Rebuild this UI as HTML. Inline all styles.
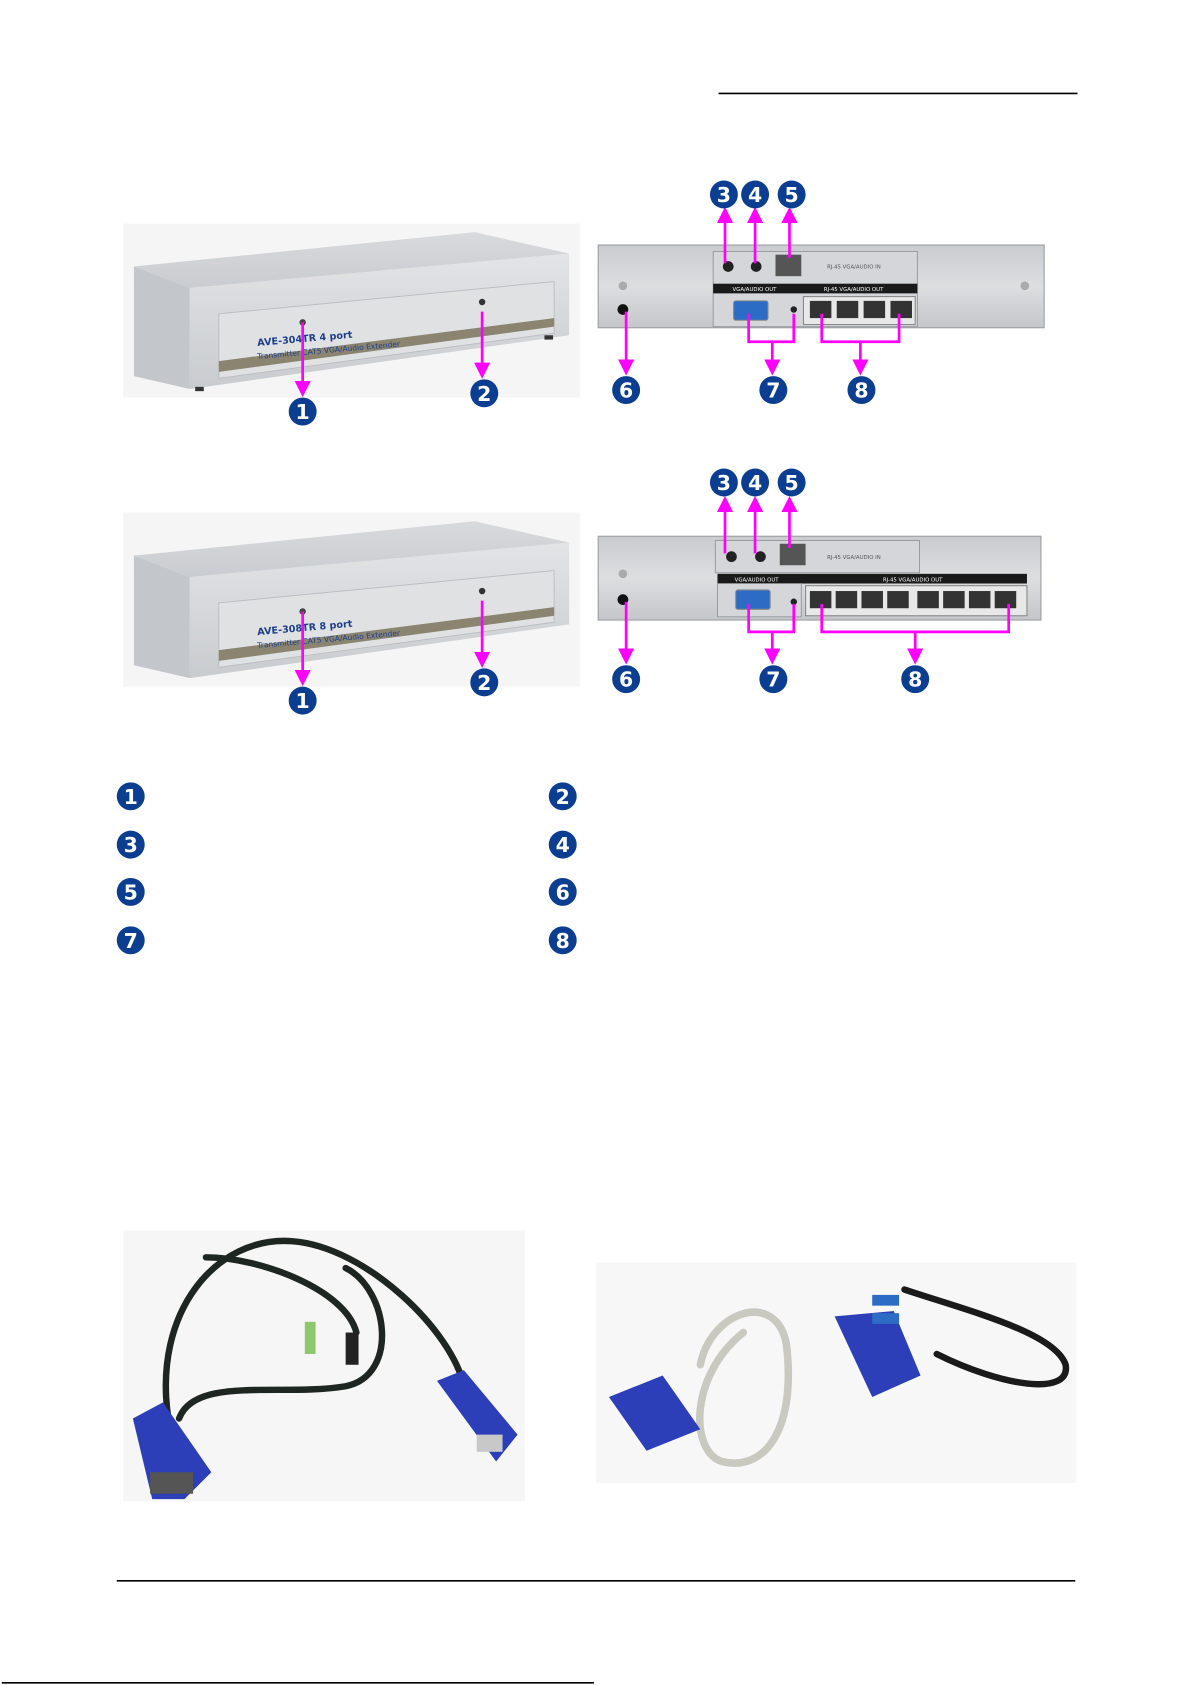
<!DOCTYPE html>
<html><head><meta charset="utf-8"><style>
html,body{margin:0;padding:0;background:#fff;}
svg{display:block;}
text{font-family:"DejaVu Sans","Liberation Sans",sans-serif;}
</style></head><body>
<svg width="1191" height="1685" viewBox="0 0 1105 1568" xmlns="http://www.w3.org/2000/svg">
<defs>
<linearGradient id="top" x1="0" y1="0" x2="0" y2="1"><stop offset="0" stop-color="#d8dadd"/><stop offset="1" stop-color="#c9ccd0"/></linearGradient>
<linearGradient id="front" x1="0" y1="0" x2="0" y2="1"><stop offset="0" stop-color="#e2e4e6"/><stop offset="1" stop-color="#c8cbcf"/></linearGradient>
<linearGradient id="back" x1="0" y1="0" x2="0" y2="1"><stop offset="0" stop-color="#c9cbce"/><stop offset="0.5" stop-color="#dcdee0"/><stop offset="1" stop-color="#c4c6c9"/></linearGradient>
<g id="badge"><circle r="13" fill="#0b3d91"/></g>
<marker id="ah" markerWidth="6" markerHeight="6" refX="3" refY="3" orient="auto" markerUnits="strokeWidth"><path d="M0,0 L6,3 L0,6 z" fill="#ff00ff"/></marker>
</defs>
<line x1="667" y1="87" x2="1001" y2="87" stroke="#000" stroke-width="1.5"/>

<!-- ===== Row 1 ===== -->
<g id="frontunit">
<rect x="113" y="208" width="425" height="162" fill="#f5f5f5"/>
<polygon points="123,248 440,216 528,236 175,268" fill="url(#top)"/>
<polygon points="123,248 175,268 175,362 123,350" fill="#c3c6ca"/>
<polygon points="175,268 528,236 528,312 175,362" fill="url(#front)"/>
<polygon points="202,292 514,262 514,310 202,352" fill="#dfe1e3" stroke="#b8bbbf" stroke-width="0.8"/>
<polygon points="202,336 514,296 514,304 202,346" fill="#8a8470"/>
<circle cx="280" cy="300" r="3" fill="#444"/>
<circle cx="447" cy="281" r="3" fill="#333"/>
<text x="238" y="322" font-size="9" font-weight="bold" fill="#1d3f8a" transform="rotate(-5 238 322)">AVE-304TR 4 port</text>
<text x="238" y="334" font-size="7" fill="#1d3f8a" transform="rotate(-5 238 334)">Transmitter  CAT5 VGA/Audio Extender</text>
<rect x="180" y="360" width="8" height="4" fill="#333"/><rect x="505" y="312" width="8" height="4" fill="#333"/>
</g>
<g id="backunit">
<rect x="555" y="228" width="415" height="77" fill="url(#back)" stroke="#9a9da1" stroke-width="1"/>
<rect x="662" y="234" width="190" height="70" fill="#d4d6d9" stroke="#8f9296" stroke-width="0.8"/>
<circle cx="676" cy="248" r="5" fill="#222"/><circle cx="702" cy="248" r="5" fill="#222"/>
<rect x="720" y="237" width="24" height="20" fill="#555"/>
<text x="768" y="250" font-size="5" fill="#555">RJ-45  VGA/AUDIO IN</text>
<rect x="662" y="264" width="190" height="9" fill="#1a1a1a"/>
<text x="680" y="271" font-size="5" fill="#fff">VGA/AUDIO OUT</text><text x="765" y="271" font-size="5" fill="#fff">RJ-45 VGA/AUDIO OUT</text>
<rect x="681" y="280" width="32" height="18" rx="2" fill="#2c6cc4" stroke="#888"/>
<circle cx="737" cy="288" r="3" fill="#222"/>
<rect x="746" y="276" width="104" height="26" fill="#e8e8e8" stroke="#888"/>
<rect x="752" y="280" width="20" height="16" fill="#333"/><rect x="777" y="280" width="20" height="16" fill="#333"/><rect x="802" y="280" width="20" height="16" fill="#333"/><rect x="827" y="280" width="20" height="16" fill="#333"/>
<circle cx="578" cy="266" r="4" fill="#aaa"/><circle cx="952" cy="266" r="4" fill="#aaa"/>
<circle cx="578" cy="288" r="5" fill="#111"/>
</g>
<g stroke="#ff00ff" stroke-width="2.5" fill="none">
<line x1="280" y1="300" x2="280" y2="362" marker-end="url(#ah)"/>
<line x1="447" y1="290" x2="447" y2="345" marker-end="url(#ah)"/>
<line x1="673" y1="245" x2="673" y2="200" marker-end="url(#ah)"/>
<line x1="701" y1="245" x2="701" y2="200" marker-end="url(#ah)"/>
<line x1="733" y1="240" x2="733" y2="200" marker-end="url(#ah)"/>
<line x1="581" y1="290" x2="581" y2="342" marker-end="url(#ah)"/>
<polyline points="695,292 695,318 737,318 737,292"/><line x1="717" y1="318" x2="717" y2="342" marker-end="url(#ah)"/>
<polyline points="763,292 763,318 835,318 835,292"/><line x1="799" y1="318" x2="799" y2="342" marker-end="url(#ah)"/>
</g>
<g font-size="19" font-weight="bold" fill="#fff" text-anchor="middle">
<circle cx="280" cy="383" r="13" fill="#0b3d91"/><text x="280" y="390">1</text>
<circle cx="449" cy="366" r="13" fill="#0b3d91"/><text x="449" y="373">2</text>
<circle cx="672" cy="181" r="13" fill="#0b3d91"/><text x="672" y="188">3</text>
<circle cx="701" cy="181" r="13" fill="#0b3d91"/><text x="701" y="188">4</text>
<circle cx="735" cy="181" r="13" fill="#0b3d91"/><text x="735" y="188">5</text>
<circle cx="581" cy="363" r="13" fill="#0b3d91"/><text x="581" y="370">6</text>
<circle cx="718" cy="363" r="13" fill="#0b3d91"/><text x="718" y="370">7</text>
<circle cx="800" cy="363" r="13" fill="#0b3d91"/><text x="800" y="370">8</text>
</g>

<!-- ===== Row 2 ===== -->
<g transform="translate(0,269)">
<rect x="113" y="208" width="425" height="162" fill="#f5f5f5"/>
<polygon points="123,248 440,216 528,236 175,268" fill="url(#top)"/>
<polygon points="123,248 175,268 175,362 123,350" fill="#c3c6ca"/>
<polygon points="175,268 528,236 528,312 175,362" fill="url(#front)"/>
<polygon points="202,292 514,262 514,310 202,352" fill="#dfe1e3" stroke="#b8bbbf" stroke-width="0.8"/>
<polygon points="202,336 514,296 514,304 202,346" fill="#8a8470"/>
<circle cx="280" cy="300" r="3" fill="#444"/>
<circle cx="447" cy="281" r="3" fill="#333"/>
<text x="238" y="322" font-size="9" font-weight="bold" fill="#1d3f8a" transform="rotate(-5 238 322)">AVE-308TR 8 port</text>
<text x="238" y="334" font-size="7" fill="#1d3f8a" transform="rotate(-5 238 334)">Transmitter  CAT5 VGA/Audio Extender</text>
</g>
<g>
<rect x="555" y="499" width="412" height="78" fill="url(#back)" stroke="#9a9da1"/>
<rect x="664" y="503" width="190" height="30" fill="#d4d6d9" stroke="#8f9296" stroke-width="0.8"/>
<circle cx="679" cy="518" r="5" fill="#222"/><circle cx="706" cy="518" r="5" fill="#222"/>
<rect x="724" y="506" width="24" height="20" fill="#555"/>
<text x="768" y="520" font-size="5" fill="#555">RJ-45  VGA/AUDIO IN</text>
<rect x="666" y="534" width="288" height="9" fill="#1a1a1a"/>
<text x="682" y="541" font-size="5" fill="#fff">VGA/AUDIO OUT</text><text x="820" y="541" font-size="5" fill="#fff">RJ-45 VGA/AUDIO OUT</text>
<rect x="666" y="543" width="78" height="31" fill="#d4d6d9" stroke="#8f9296" stroke-width="0.8"/>
<rect x="683" y="549" width="32" height="18" rx="2" fill="#2c6cc4" stroke="#888"/>
<circle cx="737" cy="560" r="3" fill="#222"/>
<rect x="748" y="545" width="206" height="28" fill="#e8e8e8" stroke="#888"/>
<g fill="#333"><rect x="752" y="550" width="20" height="16"/><rect x="776" y="550" width="20" height="16"/><rect x="800" y="550" width="20" height="16"/><rect x="824" y="550" width="20" height="16"/><rect x="852" y="550" width="20" height="16"/><rect x="876" y="550" width="20" height="16"/><rect x="900" y="550" width="20" height="16"/><rect x="924" y="550" width="20" height="16"/></g>
<circle cx="578" cy="534" r="4" fill="#aaa"/>
<circle cx="578" cy="558" r="5" fill="#111"/>
</g>
<g stroke="#ff00ff" stroke-width="2.5" fill="none">
<line x1="280" y1="569" x2="280" y2="631" marker-end="url(#ah)"/>
<line x1="447" y1="559" x2="447" y2="614" marker-end="url(#ah)"/>
<line x1="673" y1="515" x2="673" y2="469" marker-end="url(#ah)"/>
<line x1="701" y1="515" x2="701" y2="469" marker-end="url(#ah)"/>
<line x1="733" y1="510" x2="733" y2="469" marker-end="url(#ah)"/>
<line x1="581" y1="560" x2="581" y2="611" marker-end="url(#ah)"/>
<polyline points="695,562 695,588 737,588 737,562"/><line x1="717" y1="588" x2="717" y2="611" marker-end="url(#ah)"/>
<polyline points="763,562 763,588 937,588 937,562"/><line x1="850" y1="588" x2="850" y2="611" marker-end="url(#ah)"/>
</g>
<g font-size="19" font-weight="bold" fill="#fff" text-anchor="middle">
<circle cx="280" cy="652" r="13" fill="#0b3d91"/><text x="280" y="659">1</text>
<circle cx="449" cy="635" r="13" fill="#0b3d91"/><text x="449" y="642">2</text>
<circle cx="672" cy="449" r="13" fill="#0b3d91"/><text x="672" y="456">3</text>
<circle cx="701" cy="449" r="13" fill="#0b3d91"/><text x="701" y="456">4</text>
<circle cx="735" cy="449" r="13" fill="#0b3d91"/><text x="735" y="456">5</text>
<circle cx="581" cy="632" r="13" fill="#0b3d91"/><text x="581" y="639">6</text>
<circle cx="718" cy="632" r="13" fill="#0b3d91"/><text x="718" y="639">7</text>
<circle cx="850" cy="632" r="13" fill="#0b3d91"/><text x="850" y="639">8</text>
</g>

<!-- ===== Legend ===== -->
<g font-size="19" font-weight="bold" fill="#fff" text-anchor="middle">
<circle cx="120" cy="741" r="13" fill="#0b3d91"/><text x="120" y="748">1</text>
<circle cx="522" cy="741" r="13" fill="#0b3d91"/><text x="522" y="748">2</text>
<circle cx="120" cy="786" r="13" fill="#0b3d91"/><text x="120" y="793">3</text>
<circle cx="522" cy="786" r="13" fill="#0b3d91"/><text x="522" y="793">4</text>
<circle cx="120" cy="830" r="13" fill="#0b3d91"/><text x="120" y="837">5</text>
<circle cx="522" cy="830" r="13" fill="#0b3d91"/><text x="522" y="837">6</text>
<circle cx="120" cy="875" r="13" fill="#0b3d91"/><text x="120" y="882">7</text>
<circle cx="522" cy="875" r="13" fill="#0b3d91"/><text x="522" y="882">8</text>
</g>

<!-- ===== Cables ===== -->
<rect x="113" y="1145" width="374" height="252" fill="#f6f6f6"/>
<g fill="none" stroke="#1e2622" stroke-width="6" stroke-linecap="round">
<path d="M155,1320 C140,1220 200,1150 270,1155 C340,1160 420,1240 430,1290"/>
<path d="M165,1320 C180,1280 260,1300 320,1290 C370,1280 360,1200 320,1180"/>
<path d="M190,1170 C240,1170 320,1200 330,1240"/>
</g>
<polygon points="122,1320 150,1305 195,1370 170,1395 140,1395" fill="#2c3fb8"/>
<rect x="138" y="1370" width="40" height="20" fill="#555"/>
<polygon points="405,1285 430,1275 480,1335 460,1360" fill="#2c3fb8"/>
<rect x="442" y="1335" width="24" height="16" fill="#c8c8c8"/>
<rect x="282" y="1230" width="10" height="30" fill="#8dc86a"/>
<rect x="320" y="1240" width="12" height="30" fill="#222"/>

<rect x="553" y="1175" width="447" height="205" fill="#f7f7f7"/>
<g fill="none" stroke-linecap="round">
<path d="M650,1270 C660,1220 720,1200 730,1250 C740,1330 710,1370 670,1360 C640,1350 640,1280 690,1240" stroke="#c9c9c0" stroke-width="7"/>
<path d="M840,1200 C900,1220 980,1240 990,1270 C995,1300 930,1290 870,1260" stroke="#1a1a1a" stroke-width="6"/>
</g>
<polygon points="565,1300 615,1280 650,1330 600,1350" fill="#2c3fb8"/>
<polygon points="775,1225 830,1220 855,1280 810,1300" fill="#2c3fb8"/>
<rect x="810" y="1205" width="25" height="10" fill="#2c6cc4"/><rect x="810" y="1222" width="25" height="10" fill="#2c6cc4"/>

<line x1="107" y1="1471" x2="999" y2="1471" stroke="#000" stroke-width="1.5"/>
<line x1="0" y1="1566" x2="551" y2="1566" stroke="#000" stroke-width="1.5"/>
</svg>
</body></html>
